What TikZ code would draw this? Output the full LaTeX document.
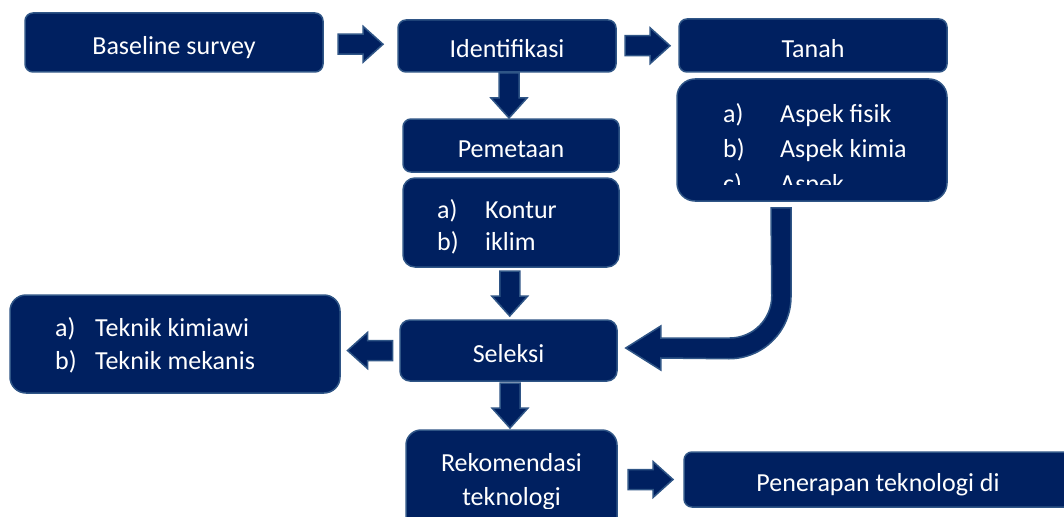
\documentclass[tikz,border=0pt]{standalone}
\usepackage{fontspec}
\setmainfont{Carlito}
\usetikzlibrary{calc}
\definecolor{navy}{HTML}{002060}
\definecolor{boxedge}{HTML}{2F5586}
\tikzset{
  flowbox/.style={draw=boxedge, fill=navy, line width=1.5pt, rounded corners=8pt,
    text=white, inner sep=0pt, font=\fontsize{26}{34}\selectfont,
    text height=26pt, text depth=2pt},
  listtext/.style={text=white, inner sep=0pt, anchor=base west, font=\fontsize{26}{34}\selectfont},
  arrowbody/.style={draw=boxedge, fill=navy, line width=1.5pt},
  blockarrow/.pic={
    \filldraw[arrowbody] (-22.5,-10) -- (2.5,-10) -- (2.5,-18) -- (22.5,0)
      -- (2.5,18) -- (2.5,10) -- (-22.5,10) -- cycle;
  }
}
\newcommand{\listrow}[3][48pt]{\makebox[#1][l]{#2}#3}

\begin{document}
\begin{tikzpicture}[x=1pt, y=-1pt]
    \useasboundingbox (0,0) rectangle (1064,516);
    \clip (0,0) rectangle (1064,516);

    % Top row
    \node[flowbox, minimum width=298, minimum height=59] (base) at (174,42.5) {Baseline survey};
    \node[flowbox, minimum width=218, minimum height=52] (ident) at (507,46) {Identifikasi};
    \node[flowbox, minimum width=268, minimum height=53] (tanah) at (813,45.5) {Tanah};

    % Soil aspects (text cut off by the box)
    \node[flowbox, rounded corners=18pt, minimum width=270, minimum height=122] (asp) at (812,140) {};
    \begin{scope}
        \clip (677,79) rectangle (947,184);
        \node[listtext] (aspa) at (723,122) {\listrow[57pt]{a)}{Aspek fisik}};
        \node[listtext] (aspb) at (723,157) {\listrow[57pt]{b)}{Aspek kimia}};
        \node[listtext] (aspc) at (723,192) {\listrow[57pt]{c)}{Aspek}};
    \end{scope}

    % Mapping
    \node[flowbox, minimum width=216, minimum height=53] (pem) at (511,145.5) {Pemetaan};
    \node[flowbox, rounded corners=12pt, minimum width=216, minimum height=89] (kontur) at (511,222.5) {};
    \node[listtext] (konta) at (437,218) {\listrow{a)}{Kontur}};
    \node[listtext] (kontb) at (437,250) {\listrow{b)}{iklim}};

    % Selection and techniques
    \node[flowbox, rounded corners=10pt, minimum width=217, minimum height=61] (sel) at (508.5,350.5) {Seleksi};
    \node[flowbox, rounded corners=16pt, minimum width=330, minimum height=98] (tek) at (175,344) {};
    \node[listtext] (teka) at (55,336) {\listrow[40pt]{a)}{Teknik kimiawi}};
    \node[listtext] (tekb) at (55,369) {\listrow[40pt]{b)}{Teknik mekanis}};

    % Bottom row
    \node[flowbox, rounded corners=15pt, minimum width=211, minimum height=110] (rek) at (511.5,485) {};
    \begin{scope}
        \clip (406,430) rectangle (617,508);
        \node[listtext, anchor=base] (reka) at (511.5,471) {Rekomendasi};
        \node[listtext, anchor=base] (rekb) at (511.5,505) {teknologi};
    \end{scope}
    \node[flowbox, minimum width=388, minimum height=55] (pen) at (878,479.5) {Penerapan teknologi di};

    % Block arrows between the boxes
    \pic at ($(base.east)!.5!(ident.west)$) {blockarrow};
    \pic at ($(ident.east)!.5!(tanah.west)$) {blockarrow};
    \pic[rotate=-90] at ($(ident.south)!.5!(pem.north)$) {blockarrow};
    \pic[rotate=-90] at ($(kontur.south)!.5!(sel.north)$) {blockarrow};
    \pic[rotate=-90] at ($(sel.south)!.5!(rek.north)$) {blockarrow};
    \pic[rotate=180] at ($(tek.east |- sel.west)!.5!(sel.west)$) {blockarrow};
    \pic at ($(rek.east |- pen.west)!.5!(pen.west)$) {blockarrow};

    % Bent arrow from the soil aspects to the selection
    \coordinate (soil) at ($(asp.south)+(-31,6)$);
    \coordinate (tip) at ($(sel.east)+(8,-2.5)$);
    \filldraw[arrowbody] ($(soil)+(-10,0)$) -- ++(20,0) -- ++(0,89)
        arc[start angle=0, end angle=90, radius=62] -- ($(tip)+(35,10)$)
        -- ++(0,12) -- (tip) -- ++(35,-22) -- ++(0,12) -- ++(69,0)
        arc[start angle=90, end angle=0, radius=42] -- cycle;
\end{tikzpicture}
\end{document}
